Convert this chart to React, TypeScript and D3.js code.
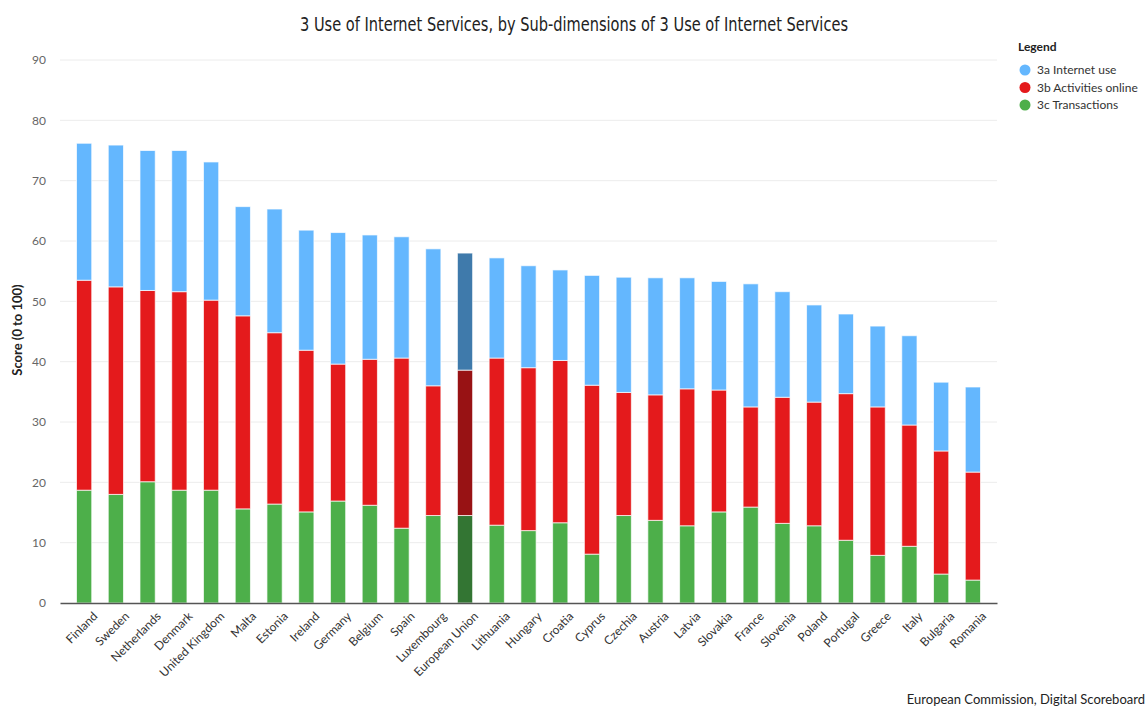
import { useEffect, useRef } from "react";
import * as d3 from "d3";

const WIDTH = 1148;
const HEIGHT = 709;
const MARGIN = { top: 60, right: 151, bottom: 106, left: 60 };

const countries = [
  "Finland", "Sweden", "Netherlands", "Denmark", "United Kingdom", "Malta", "Estonia",
  "Ireland", "Germany", "Belgium", "Spain", "Luxembourg", "European Union", "Lithuania",
  "Hungary", "Croatia", "Cyprus", "Czechia", "Austria", "Latvia", "Slovakia", "France",
  "Slovenia", "Poland", "Portugal", "Greece", "Italy", "Bulgaria", "Romania",
];

// 3c Transactions
const transactions = [
  18.7, 18.0, 20.1, 18.7, 18.7, 15.6, 16.4, 15.1, 16.9, 16.2, 12.4, 14.5, 14.5, 12.9,
  12.0, 13.3, 8.1, 14.5, 13.7, 12.8, 15.1, 15.9, 13.2, 12.8, 10.4, 7.9, 9.4, 4.8, 3.8,
];
// 3b Activities online
const activities = [
  34.8, 34.4, 31.7, 32.9, 31.5, 32.0, 28.4, 26.8, 22.7, 24.2, 28.2, 21.5, 24.1, 27.7,
  27.0, 26.9, 28.0, 20.4, 20.8, 22.7, 20.2, 16.6, 20.9, 20.5, 24.3, 24.6, 20.1, 20.4, 17.9,
];
// 3a Internet use
const internetUse = [
  22.7, 23.5, 23.2, 23.4, 22.9, 18.1, 20.5, 19.9, 21.8, 20.6, 20.1, 22.7, 19.4, 16.6,
  16.9, 15.0, 18.2, 19.1, 19.4, 18.4, 18.0, 20.4, 17.5, 16.1, 13.2, 13.4, 14.8, 11.4, 14.1,
];

const yTicks = [0, 10, 20, 30, 40, 50, 60, 70, 80, 90];

const seriesKeys = ["transactions", "activities", "internetUse"] as const;
const seriesLabels = ["3a Internet use", "3b Activities online", "3c Transactions"];
const colors: Record<string, string> = {
  transactions: "#4daf4a",
  activities: "#e41a1c",
  internetUse: "#64b7fe",
};
const euColors: Record<string, string> = {
  transactions: "#337533",
  activities: "#981214",
  internetUse: "#3f7aab",
};
const legendColors = ["#64b7fe", "#e41a1c", "#4daf4a"];

const FONT = "Lato, 'Open Sans', sans-serif";

export default function App() {
  const axesRef = useRef<SVGGElement | null>(null);
  const boundsWidth = WIDTH - MARGIN.left - MARGIN.right;
  const boundsHeight = HEIGHT - MARGIN.top - MARGIN.bottom;

  const rows = countries.map((c, i) => ({
    country: c,
    transactions: transactions[i],
    activities: activities[i],
    internetUse: internetUse[i],
  }));

  const stacked = d3.stack<any>().keys(seriesKeys as any)(rows);

  const xScale = d3.scaleBand().domain(countries).range([0, boundsWidth]).padding(0.52);
  const yScale = d3.scaleLinear().domain([0, 90]).range([boundsHeight, 0]);

  useEffect(() => {
    const g = d3.select(axesRef.current);
    g.selectAll("*").remove();

    // y axis labels
    const yAxis = g.append("g").call(d3.axisLeft(yScale).tickValues(yTicks).tickSize(0).tickPadding(14));
    yAxis.select(".domain").remove();
    yAxis.selectAll("text")
      .attr("font-family", FONT)
      .attr("font-size", 12)
      .attr("fill", "#666");

    // x axis
    const xAxis = g.append("g")
      .attr("transform", "translate(0," + boundsHeight + ")")
      .call(d3.axisBottom(xScale).tickSize(0).tickPadding(10));
    xAxis.select(".domain").attr("stroke", "#555").attr("stroke-width", 1.5);
    xAxis.selectAll("text")
      .attr("font-family", FONT)
      .attr("font-size", 12)
      .attr("fill", "#333")
      .attr("text-anchor", "end")
      .attr("dy", "0.35em")
      .attr("transform", "translate(4,4) rotate(-45)");
  }, [xScale, yScale, boundsHeight]);

  return (
    <svg width={WIDTH} height={HEIGHT} style={{ position: "absolute", left: 0, top: 0 }}>
      <rect width={WIDTH} height={HEIGHT} fill="#fff" />
      <text x={574} y={31} textAnchor="middle" textLength={548} lengthAdjust="spacingAndGlyphs" fontFamily="'DejaVu Sans Condensed', 'Liberation Sans Narrow', sans-serif" fontSize={19} fill="#222">
        3 Use of Internet Services, by Sub-dimensions of 3 Use of Internet Services
      </text>
      <g transform={`translate(${MARGIN.left},${MARGIN.top})`}>
        {yTicks.slice(1).map((t) => (
          <line key={t} x1={0} x2={boundsWidth} y1={yScale(t)} y2={yScale(t)} stroke="#ececec" strokeWidth={1} />
        ))}
        {stacked.map((layer) => (
          <g key={layer.key}>
            {layer.map((d, i) => {
              const isEU = countries[i] === "European Union";
              return (
                <rect
                  key={countries[i]}
                  x={xScale(countries[i])}
                  y={yScale(d[1])}
                  width={xScale.bandwidth()}
                  height={yScale(d[0]) - yScale(d[1])}
                  fill={isEU ? euColors[layer.key] : colors[layer.key]}
                  stroke="#fff"
                  strokeOpacity={0.7}
                  strokeWidth={1}
                />
              );
            })}
          </g>
        ))}
      </g>
      <g ref={axesRef} transform={`translate(${MARGIN.left},${MARGIN.top})`} />
      <text x={-330} y={22} transform="rotate(-90)" textAnchor="middle" fontFamily={FONT} fontWeight="bold" fontSize={13} fill="#222">
        Score (0 to 100)
      </text>
      <g transform="translate(1018,0)" fontFamily={FONT}>
        <text x={0} y={51} fontWeight="bold" fontSize={12} fill="#222">Legend</text>
        {seriesLabels.map((l, i) => (
          <g key={l} transform={`translate(0,${70 + i * 17.5})`}>
            <circle cx={7} cy={0} r={5.5} fill={legendColors[i]} />
            <text x={19} y={4} fontSize={12} fill="#333">{l}</text>
          </g>
        ))}
      </g>
      <text x={1145} y={704} textAnchor="end" fontFamily={FONT} fontSize={13} fill="#222">
        European Commission, Digital Scoreboard
      </text>
    </svg>
  );
}
